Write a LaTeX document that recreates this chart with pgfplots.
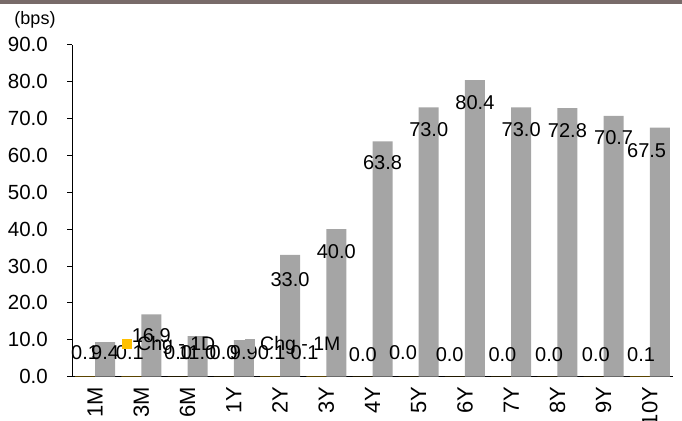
\documentclass[border=0pt]{standalone}
\usepackage{pgfplots}
\pgfplotsset{compat=1.18}
\usepackage{fontspec}
\setmainfont{Liberation Sans}
\definecolor{cyellow}{HTML}{FFC000}
\definecolor{cgray}{HTML}{A5A5A5}
\definecolor{cband}{HTML}{786B69}
\begin{document}
\begin{tikzpicture}
\useasboundingbox (0,0) rectangle (682bp,421bp);
\fill[cband] (0,417bp) rectangle (682bp,421bp);
\node[font=\fontsize{18bp}{20bp}\selectfont, inner sep=0pt] at (35bp,401bp) {(bps)};
\begin{axis}[
  at={(72bp,44.3bp)}, anchor=south west,
  scale only axis, width=601bp, height=332bp,
  xmin=-0.5, xmax=12.5, ymin=0, ymax=90,
  clip=false,
  axis x line*=bottom, axis y line*=left,
  axis line style={black, line width=1bp, -},
  xtick={0,...,12},
  xticklabels={1M,3M,6M,1Y,2Y,3Y,4Y,5Y,6Y,7Y,8Y,9Y,10Y},
  x tick style={draw=none},
  xticklabel style={yshift=-10bp, rotate=90, anchor=east, inner sep=0pt, font=\fontsize{22bp}{24bp}\selectfont},
  ytick={0,10,...,90},
  ytick align=outside,
  major tick length=5bp,
  y tick style={black, line width=1bp},
  yticklabel style={anchor=east, inner sep=0pt, xshift=-19bp, font=\fontsize{20.5bp}{22bp}\selectfont},
  /pgf/number format/fixed,
  /pgf/number format/fixed zerofill,
  /pgf/number format/precision=1,
  /pgf/number format/assume math mode=true,
  legend columns=2,
  legend style={at={(axis description cs:0.0832,0.0985)}, anchor=west,
    draw=none, fill=none, inner sep=0pt,
    font=\fontsize{19.5bp}{22bp}\selectfont,
    nodes={inner sep=0pt},
    /tikz/every odd column/.append style={column sep=5bp},
    /tikz/every even column/.append style={column sep=30bp}},
]
\addplot[ybar, bar width=20bp, bar shift=-10bp, fill=cyellow, draw=none,
  legend image code/.code={\fill[cyellow] (0bp,-5bp) rectangle (10bp,5bp);}]
  coordinates {(0,0.1) (1,0.1) (2,0.0) (3,0.0) (4,0.1) (5,0.1) (6,0.0) (7,0.0) (8,0.0) (9,0.0) (10,0.0) (11,0.0) (12,0.1)};
\addlegendentry{Chg - 1D}
\addplot[ybar, bar width=20bp, bar shift=10bp, fill=cgray, draw=none,
  legend image code/.code={\fill[cgray] (0bp,-5bp) rectangle (10bp,5bp);}]
  coordinates {(0,9.4) (1,16.9) (2,11.0) (3,9.9) (4,33.0) (5,40.0) (6,63.8) (7,73.0) (8,80.4) (9,73.0) (10,72.8) (11,70.7) (12,67.5)};
\addlegendentry{Chg - 1M}
% labels of Chg - 1D
\addplot[draw=none, mark=none, forget plot, nodes near coords, point meta=explicit symbolic,
  nodes near coords style={anchor=center, inner sep=0pt, font=\fontsize{20bp}{22bp}\selectfont}]
  table[x=x, y=y, meta=l] {
x y l
-0.216 6.4 0.1
0.75 6.4 0.1
1.795 6.4 0.0
2.78 6.4 0.0
3.82 6.4 0.1
4.53 6.4 0.1
5.79 6.0 0.0
6.66 6.4 0.0
7.67 6.0 0.0
8.81 6.0 0.0
9.82 6.0 0.0
10.83 6.0 0.0
11.81 6.0 0.1
};
% labels of Chg - 1M
\addplot[draw=none, mark=none, forget plot, nodes near coords, point meta=explicit symbolic,
  nodes near coords style={anchor=center, inner sep=0pt, font=\fontsize{20bp}{22bp}\selectfont}]
  table[x=x, y=y, meta=l] {
x y l
0.216 6.4 9.4
1.216 11.2 16.9
2.216 6.4 11.0
3.216 6.4 9.9
4.216 26.4 33.0
5.216 33.9 40.0
6.216 57.9 63.8
7.216 67.1 73.0
8.216 74.3 80.4
9.216 67.1 73.0
10.216 66.6 72.8
11.216 64.8 70.7
11.93 61.2 67.5
};
\end{axis}
\end{tikzpicture}
\end{document}
